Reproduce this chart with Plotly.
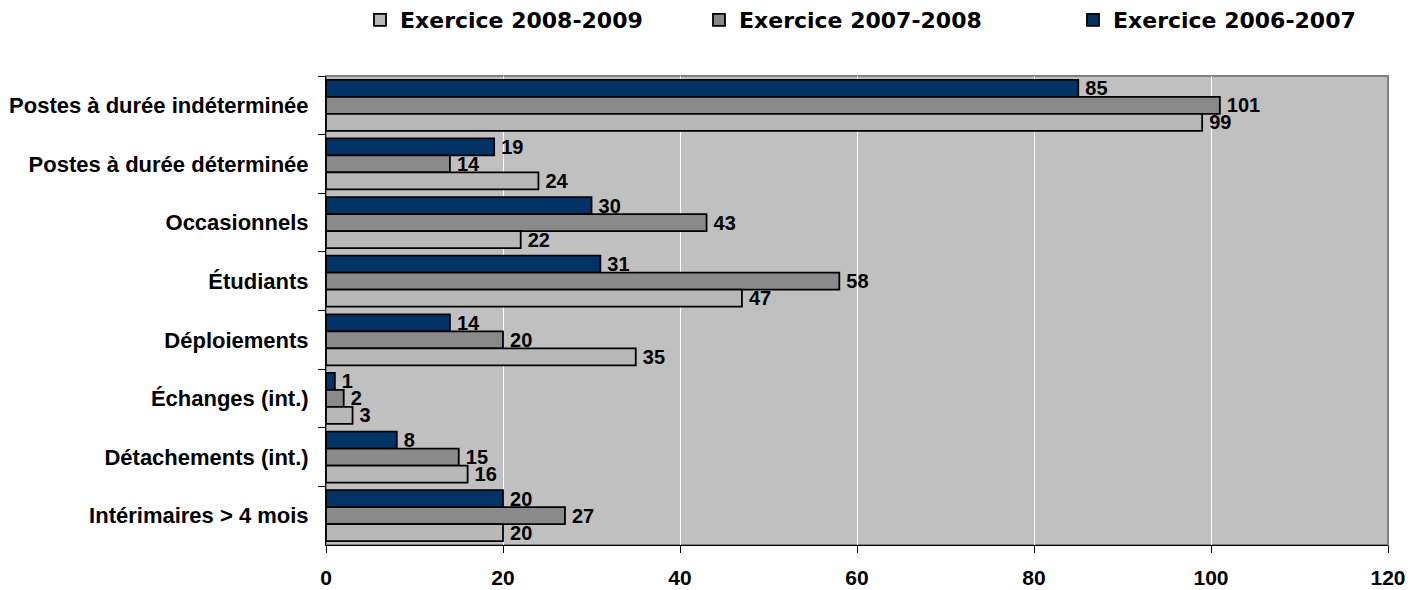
import plotly.graph_objects as go

categories = ["Postes à durée indéterminée", "Postes à durée déterminée", "Occasionnels",
              "Étudiants", "Déploiements", "Échanges (int.)", "Détachements (int.)",
              "Intérimaires > 4 mois"]
series_names = ["Exercice 2006-2007", "Exercice 2007-2008", "Exercice 2008-2009"]
v_2006_2007 = [85, 19, 30, 31, 14, 1, 8, 20]
v_2007_2008 = [101, 14, 43, 58, 20, 2, 15, 27]
v_2008_2009 = [99, 24, 22, 47, 35, 3, 16, 20]
x_ticks = [0, 20, 40, 60, 80, 100, 120]

colors = ["#013366", "#8a8a8a", "#b8b8b8"]
values = [v_2006_2007, v_2007_2008, v_2008_2009]
legend_ids = ["legend3", "legend2", "legend"]

AR = "Liberation Sans, Arial, sans-serif"
DJ = "DejaVu Sans, sans-serif"

fig = go.Figure()
for name, vals, col, lg in zip(series_names, values, colors, legend_ids):
    fig.add_trace(go.Bar(
        y=categories, x=vals, name=name, orientation="h",
        marker=dict(color=col, line=dict(color="black", width=1.8)),
        text=["\u2009" + str(v) for v in vals], textposition="outside",
        textfont=dict(family=AR, size=20, color="black", weight="bold"),
        constraintext="none", cliponaxis=False, legend=lg,
    ))

L, R, T, B = 326, 36, 76, 45
W, H = 1424, 590
pw = W - L - R
ph = H - T - B

def px2x(px):
    return (px - L) / pw

def py2y(py):
    return (H - B - py) / ph

leg_common = dict(orientation="h", yanchor="middle", xanchor="left", y=py2y(20),
                  font=dict(family=DJ, size=22, color="black", weight="bold"),
                  bgcolor="rgba(0,0,0,0)", borderwidth=0)

fig.update_layout(
    width=W, height=H,
    margin=dict(l=L, r=R, t=T, b=B, pad=0, autoexpand=False),
    paper_bgcolor="white", plot_bgcolor="#c0c0c0",
    barmode="group", bargap=0.13, bargroupgap=0,
    showlegend=True,
    legend=dict(x=px2x(360), **leg_common),
    legend2=dict(x=px2x(699), **leg_common),
    legend3=dict(x=px2x(1073), **leg_common),
    xaxis=dict(range=[0, 120], tickvals=x_ticks, showgrid=True, gridcolor="white", gridwidth=1,
               showline=True, linecolor="black", linewidth=1, ticks="outside", ticklen=7,
               tickcolor="black", zeroline=False,
               tickfont=dict(family=AR, size=21, color="black", weight="bold"),
               ticklabelstandoff=7),
    yaxis=dict(categoryorder="array", categoryarray=categories, autorange="reversed",
               showline=True, linecolor="black", linewidth=1, ticks="outside", ticklen=7,
               tickcolor="black", tickson="boundaries", showgrid=False,
               tickfont=dict(family=AR, size=22, color="black", weight="bold"),
               ticklabelstandoff=12),
    shapes=[dict(type="rect", xref="paper", yref="paper", x0=0, x1=1, y0=0, y1=1,
                 line=dict(color="#808080", width=2), layer="below")],
)

fig.write_html("out.html")
